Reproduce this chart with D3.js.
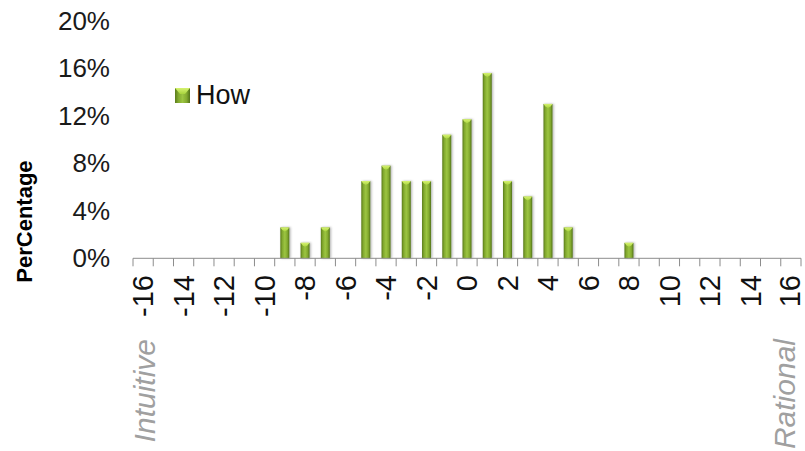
<!DOCTYPE html>
<html>
<head>
<meta charset="utf-8">
<script src="https://cdn.jsdelivr.net/npm/d3@7"></script>
<style>
  html, body { margin: 0; padding: 0; background: #ffffff; }
  svg { display: block; }
  text { font-family: "Liberation Sans", Arial, sans-serif; }
</style>
</head>
<body>
<svg id="chart" width="805" height="451"></svg>
<script>
// Score categories from -16 (intuitive) to +16 (rational)
const categories = d3.range(-16, 17);
// Share of respondents (%) per score; scores not listed are 0
const scores = [-9, -8, -7, -5, -4, -3, -2, -1, 0, 1, 2, 3, 4, 5, 8];
const percents = [2.6, 1.3, 2.6, 6.5, 7.8, 6.5, 6.5, 10.4, 11.7, 15.6, 6.5, 5.2, 13.0, 2.6, 1.3];
const yTicks = [0, 4, 8, 12, 16, 20];
const seriesName = "How";
const yTitle = "PerCentage";
const leftNote = "Intuitive";
const rightNote = "Rational";

const valueByScore = new Map(scores.map((s, i) => [s, percents[i]]));
const data = categories.map(c => ({ cat: c, value: valueByScore.get(c) || 0 }));

const svg = d3.select("#chart");

const x = d3.scaleBand().domain(categories).range([133, 801]).padding(0);
const y = d3.scaleLinear().domain([0, 20]).range([258.3, 20.8]);

// Gradients for the bevelled bars
const defs = svg.append("defs");
const body = defs.append("linearGradient").attr("id", "barBody")
  .attr("x1", "0%").attr("x2", "100%").attr("y1", "0%").attr("y2", "0%");
[["0%", "#5a7b1c"], ["22%", "#82a92e"], ["50%", "#9cc542"], ["78%", "#82a92e"], ["100%", "#52721a"]]
  .forEach(([o, c]) => body.append("stop").attr("offset", o).attr("stop-color", c));
const cap = defs.append("linearGradient").attr("id", "barCap")
  .attr("x1", "0%").attr("x2", "0%").attr("y1", "0%").attr("y2", "100%");
[["0%", "#d6f270"], ["100%", "#a8d43e"]]
  .forEach(([o, c]) => cap.append("stop").attr("offset", o).attr("stop-color", c));
const shadow = defs.append("filter").attr("id", "barShadow")
  .attr("x", "-50%").attr("y", "-10%").attr("width", "200%").attr("height", "120%");
shadow.append("feDropShadow").attr("dx", 1.2).attr("dy", 0).attr("stdDeviation", 0.9)
  .attr("flood-color", "#000").attr("flood-opacity", 0.3);

// Y axis labels (no axis line)
svg.append("g").selectAll("text").data(yTicks).join("text")
  .attr("x", 110).attr("y", d => y(d)).attr("dy", "0.35em")
  .attr("text-anchor", "end").attr("font-size", 26).attr("fill", "#1a1a1a")
  .text(d => d + "%");

// Y title
svg.append("text")
  .attr("transform", `translate(32,${(y(0) + y(20)) / 2 + 82}) rotate(-90)`)
  .attr("text-anchor", "middle").attr("font-size", 22).attr("font-weight", "bold")
  .attr("fill", "#000").text(yTitle);

// Bars
const barW = 9;
const bars = svg.append("g").selectAll("g").data(data.filter(d => d.value > 0)).join("g")
  .attr("filter", "url(#barShadow)");
bars.append("rect")
  .attr("x", d => x(d.cat) + x.bandwidth() / 2 - barW / 2)
  .attr("y", d => y(d.value))
  .attr("width", barW)
  .attr("height", d => y(0) - y(d.value))
  .attr("fill", "url(#barBody)");
bars.append("path")
  .attr("d", d => {
    const x0 = x(d.cat) + x.bandwidth() / 2 - barW / 2, x1 = x0 + barW, t = y(d.value);
    return `M${x0},${t}L${x1},${t}L${x1 - 2},${t + 2.5}L${(x0 + x1) / 2},${t + 4}L${x0 + 2},${t + 2.5}Z`;
  })
  .attr("fill", "url(#barCap)");

// X axis: baseline, boundary ticks and rotated labels
const axis = svg.append("g");
axis.append("line")
  .attr("x1", x.range()[0]).attr("x2", x.range()[1])
  .attr("y1", y(0)).attr("y2", y(0))
  .attr("stroke", "#8c8c8c").attr("stroke-width", 1);
const bounds = categories.map(c => x(c)).concat([x.range()[1]]);
axis.selectAll("line.tick").data(bounds).join("line").attr("class", "tick")
  .attr("x1", d => d).attr("x2", d => d)
  .attr("y1", y(0)).attr("y2", y(0) + 8)
  .attr("stroke", "#8c8c8c").attr("stroke-width", 1);
axis.selectAll("text").data(categories.filter(c => c % 2 === 0)).join("text")
  .attr("transform", d => `translate(${x(d) + x.bandwidth() / 2 - (d === 16 ? 1.5 : 0)},275) rotate(-90)`)
  .attr("dy", "0.35em").attr("text-anchor", "end")
  .attr("font-size", 29).attr("fill", "#111")
  .text(d => d);

// End notes under the axis
svg.append("text")
  .attr("transform", `translate(${x(-16) + x.bandwidth() / 2 + 1},339) rotate(-90)`)
  .attr("dy", "0.35em").attr("text-anchor", "end")
  .attr("font-size", 30).attr("font-style", "italic").attr("fill", "#a0a0a0")
  .text(leftNote);
svg.append("text")
  .attr("transform", `translate(${x(16) + x.bandwidth() / 2 - 6},339) rotate(-90)`)
  .attr("dy", "0.35em").attr("text-anchor", "end")
  .attr("font-size", 30).attr("font-style", "italic").attr("fill", "#a0a0a0")
  .text(rightNote);

// Legend
const lg = svg.append("g").attr("transform", "translate(175,88)");
lg.append("rect").attr("width", 15).attr("height", 15).attr("fill", "url(#barBody)");
lg.append("path").attr("d", "M0,0L15,0L10,6L5,6Z").attr("fill", "url(#barCap)");
lg.append("text").attr("x", 21).attr("y", 15.5)
  .attr("font-size", 27).attr("fill", "#111").text(seriesName);
</script>
</body>
</html>
